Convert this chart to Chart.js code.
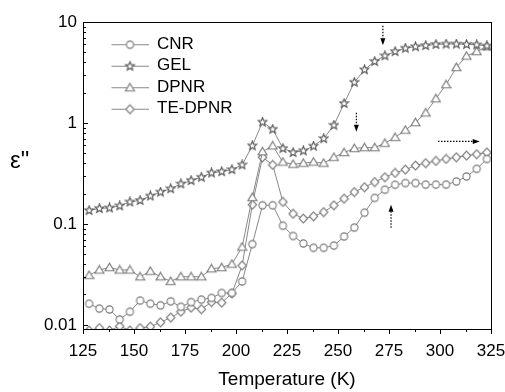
<!DOCTYPE html>
<html>
<head>
<meta charset="utf-8">
<script src="https://cdn.jsdelivr.net/npm/chart.js@4.4.1/dist/chart.umd.min.js"></script>
<style>
  html, body { margin: 0; padding: 0; background: #fff; }
  #wrap { width: 505px; height: 392px; }
</style>
</head>
<body>
<div id="wrap"><canvas id="eps"></canvas></div>
<script>
// temperature (K) of each measured point
var temps = [128, 133, 138, 143, 148, 153, 158, 163, 168, 173, 178, 183, 188, 193, 198, 203,
  208, 213, 218, 223, 228, 233, 238, 243, 248, 253, 258, 263, 268, 273, 278, 283,
  288, 293, 298, 303, 308, 313, 318, 323];

// dielectric loss e'' per sample
var cnr = [0.0162, 0.0145, 0.0142, 0.0113, 0.0135, 0.0174, 0.0162, 0.0156, 0.0171, 0.0151, 0.0168, 0.0178, 0.0185, 0.0207, 0.0207, 0.0269,
  0.063, 0.153, 0.153, 0.096, 0.076, 0.064, 0.058, 0.058, 0.061, 0.075, 0.092, 0.129, 0.181, 0.218, 0.244, 0.254,
  0.254, 0.245, 0.245, 0.245, 0.263, 0.295, 0.351, 0.44];
var gel = [0.136, 0.142, 0.144, 0.151, 0.165, 0.171, 0.189, 0.207, 0.223, 0.249, 0.269, 0.29, 0.32, 0.33, 0.345, 0.384,
  0.594, 1.02, 0.867, 0.56, 0.51, 0.53, 0.59, 0.70, 0.95, 1.56, 2.53, 3.37, 4.07, 4.63, 5.1, 5.5,
  5.7, 5.85, 6.0, 6.05, 6.05, 6.0, 5.95, 5.8];
var dpnr = [0.031, 0.035, 0.037, 0.035, 0.035, 0.030, 0.034, 0.030, 0.027, 0.030, 0.030, 0.030, 0.036, 0.037, 0.040, 0.059,
  0.183, 0.52, 0.594, 0.41, 0.39, 0.40, 0.41, 0.40, 0.457, 0.51, 0.56, 0.57, 0.57, 0.63, 0.72, 0.85,
  1.01, 1.26, 1.74, 2.4, 3.55, 4.6, 5.1, 5.7];
var teDpnr = [0.0088, 0.0093, 0.0088, 0.0097, 0.0088, 0.0093, 0.0096, 0.0106, 0.0118, 0.0135, 0.0148, 0.0143, 0.0168, 0.0166, 0.0205, 0.0387,
  0.155, 0.457, 0.384, 0.165, 0.126, 0.113, 0.119, 0.131, 0.153, 0.178, 0.207, 0.231, 0.26, 0.29, 0.32, 0.345,
  0.378, 0.40, 0.42, 0.44, 0.457, 0.475, 0.49, 0.51];

var seriesNames = ["CNR", "GEL", "DPNR", "TE-DPNR"];

// log axis ticks (labels only on decades)
var yTicks = [0.01, 0.02, 0.03, 0.04, 0.05, 0.06, 0.07, 0.08, 0.09,
  0.1, 0.2, 0.3, 0.4, 0.5, 0.6, 0.7, 0.8, 0.9,
  1, 2, 3, 4, 5, 6, 7, 8, 9, 10];
var yLabels = { 0.01: "0.01", 0.1: "0.1", 1: "1", 10: "10" };

// dotted arrows: [T from, e'' from, T to, e'' to]
var arrows = [
  [272, 9.2, 272, 5.9],
  [259, 1.26, 259, 0.82],
  [299, 0.656, 319.5, 0.656],
  [276, 0.0915, 276, 0.155]
];

var FONT = "'Liberation Sans', Arial, sans-serif";

function drawMarker(c, kind, cx, cy) {
  c.save();
  c.fillStyle = "#fff";
  c.lineWidth = 1.1;
  c.strokeStyle = kind === "star" ? "#555" : "#777";
  c.beginPath();
  if (kind === "circle") {
    c.arc(cx, cy, 3.6, 0, Math.PI * 2);
  } else if (kind === "triangle") {
    c.moveTo(cx, cy - 4.3);
    c.lineTo(cx + 4.5, cy + 3.3);
    c.lineTo(cx - 4.5, cy + 3.3);
    c.closePath();
  } else if (kind === "diamond") {
    c.moveTo(cx, cy - 4.4);
    c.lineTo(cx + 4.2, cy);
    c.lineTo(cx, cy + 4.4);
    c.lineTo(cx - 4.2, cy);
    c.closePath();
  } else {
    for (var k = 0; k < 10; k++) {
      var r = k % 2 === 0 ? 4.6 : 2.0;
      var a = -Math.PI / 2 + k * Math.PI / 5;
      var px = cx + r * Math.cos(a), py = cy + r * Math.sin(a);
      if (k === 0) c.moveTo(px, py); else c.lineTo(px, py);
    }
    c.closePath();
  }
  c.fill();
  c.stroke();
  c.restore();
}

function markerImage(kind) {
  var cv = document.createElement("canvas");
  cv.width = 11; cv.height = 11;
  drawMarker(cv.getContext("2d"), kind, 5.5, 5.5);
  return cv;
}

function legendImage(kind) {
  var cv = document.createElement("canvas");
  cv.width = 61; cv.height = 12;
  var c = cv.getContext("2d");
  c.strokeStyle = "#888";
  c.lineWidth = 1.2;
  c.beginPath();
  c.moveTo(24, 6.5);
  c.lineTo(61, 6.5);
  c.stroke();
  drawMarker(c, kind, 42.5, 6.5);
  return cv;
}

var kinds = ["circle", "star", "triangle", "diamond"];
var values = [cnr, gel, dpnr, teDpnr];

var datasets = seriesNames.map(function (name, i) {
  return {
    label: name,
    data: temps.map(function (t, j) { return { x: t, y: values[i][j] }; }),
    borderColor: "#888",
    borderWidth: 1,
    pointStyle: markerImage(kinds[i]),
    pointRadius: 4,
    tension: 0,
    fill: false
  };
});

var framePlugin = {
  id: "frame",
  afterDatasetsDraw: function (chart) {
    var c = chart.ctx, a = chart.chartArea;
    var xs = chart.scales.x, ys = chart.scales.y;
    c.save();
    c.strokeStyle = "#000";
    c.lineWidth = 1;
    c.strokeRect(Math.round(a.left) + 0.5, Math.round(a.top) + 0.5,
      Math.round(a.right - a.left), Math.round(a.bottom - a.top));
    c.beginPath();
    xs.ticks.forEach(function (t) {
      var px = Math.round(xs.getPixelForValue(t.value)) + 0.5;
      var len = t.value % 25 === 0 ? 5 : 3;
      c.moveTo(px, a.bottom);
      c.lineTo(px, a.bottom + len);
    });
    ys.ticks.forEach(function (t) {
      var py = Math.round(ys.getPixelForValue(t.value)) + 0.5;
      var len = yLabels[t.value] ? 5 : 3;
      c.moveTo(a.left, py);
      c.lineTo(a.left + len, py);
    });
    c.stroke();

    // dotted arrows
    arrows.forEach(function (ar) {
      var x1 = xs.getPixelForValue(ar[0]), y1 = ys.getPixelForValue(ar[1]);
      var x2 = xs.getPixelForValue(ar[2]), y2 = ys.getPixelForValue(ar[3]);
      var ang = Math.atan2(y2 - y1, x2 - x1);
      var hl = 7;
      c.setLineDash([1.5, 1.5]);
      c.lineWidth = 1.2;
      c.beginPath();
      c.moveTo(x1, y1);
      c.lineTo(x2 - hl * Math.cos(ang), y2 - hl * Math.sin(ang));
      c.stroke();
      c.setLineDash([]);
      c.fillStyle = "#000";
      c.beginPath();
      c.moveTo(x2, y2);
      c.lineTo(x2 - hl * Math.cos(ang) + 2.5 * Math.sin(ang), y2 - hl * Math.sin(ang) - 2.5 * Math.cos(ang));
      c.lineTo(x2 - hl * Math.cos(ang) - 2.5 * Math.sin(ang), y2 - hl * Math.sin(ang) + 2.5 * Math.cos(ang));
      c.closePath();
      c.fill();
    });

    // y axis title, horizontal like the original
    c.fillStyle = "#000";
    c.font = "24px " + FONT;
    c.textBaseline = "alphabetic";
    c.textAlign = "left";
    c.fillText("\u03b5\"", 10, 168);
    c.restore();
  }
};

var ctx = document.getElementById("eps").getContext("2d");
var myChart = new Chart(ctx, {
  type: "line",
  data: { datasets: datasets },
  options: {
    responsive: true,
    maintainAspectRatio: false,
    animation: false,
    devicePixelRatio: 1,
    layout: { padding: { left: 0, right: 14, top: 22, bottom: 0 } },
    scales: {
      x: {
        type: "linear",
        min: 125,
        max: 325,
        grid: { display: false, drawTicks: false },
        border: { display: false },
        ticks: {
          stepSize: 12.5,
          autoSkip: false,
          maxRotation: 0,
          padding: 12,
          color: "#000",
          font: { family: FONT, size: 17 },
          callback: function (v) { return v % 25 === 0 ? String(v) : ""; }
        },
        title: {
          display: true,
          text: "Temperature (K)",
          color: "#000",
          font: { family: FONT, size: 19 },
          padding: { top: 0, bottom: 1 }
        },
        afterFit: function (s) { s.height = 63; s.paddingLeft = 0; s.paddingRight = 0; }
      },
      y: {
        type: "logarithmic",
        min: 0.0091,
        max: 10,
        grid: { display: false, drawTicks: false },
        border: { display: false },
        afterBuildTicks: function (s) {
          s.ticks = yTicks.map(function (v) { return { value: v }; });
        },
        ticks: {
          autoSkip: false,
          padding: 6,
          color: "#000",
          font: { family: FONT, size: 17 },
          callback: function (v) { return yLabels[v] || ""; }
        },
        afterFit: function (s) { s.width = 83; }
      }
    },
    plugins: {
      legend: {
        position: "chartArea",
        align: "start",
        title: { display: true, text: " ", font: { size: 1 }, padding: { top: 30, bottom: 0 } },
        labels: {
          usePointStyle: true,
          pointStyleWidth: 61,
          boxHeight: 17,
          padding: 4.5,
          color: "#000",
          font: { family: FONT, size: 17 },
          generateLabels: function (chart) {
            return chart.data.datasets.map(function (ds, i) {
              return {
                text: ds.label,
                pointStyle: legendImage(kinds[i]),
                datasetIndex: i,
                hidden: false,
                lineWidth: 0,
                fontColor: "#000",
                fillStyle: "#fff",
                strokeStyle: "#fff"
              };
            });
          }
        }
      },
      tooltip: { enabled: false }
    }
  },
  plugins: [framePlugin]
});
</script>
</body>
</html>
